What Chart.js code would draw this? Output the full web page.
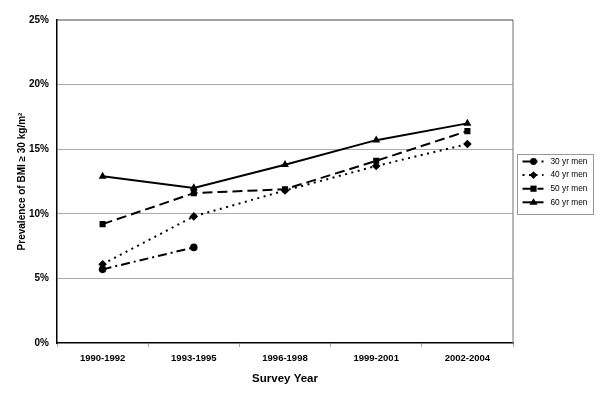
<!DOCTYPE html>
<html>
<head>
<meta charset="utf-8">
<script src="https://cdn.jsdelivr.net/npm/chart.js@4/dist/chart.umd.min.js"></script>
<style>
html,body{margin:0;padding:0;background:#fff;}
#wrap{width:600px;height:400px;}
</style>
</head>
<body>
<div id="wrap"><canvas id="c" width="600" height="400"></canvas></div>
<script>
const categories = ['1990-1992', '1993-1995', '1996-1998', '1999-2001', '2002-2004'];
const men30 = [5.7, 7.4, null, null, null];
const men40 = [6.1, 9.8, 11.8, 13.7, 15.4];
const men50 = [9.2, 11.6, 11.9, 14.1, 16.4];
const men60 = [12.9, 12.0, 13.8, 15.7, 17.0];
const seriesNames = ['30 yr men', '40 yr men', '50 yr men', '60 yr men'];
const yMin = 0, yMax = 25, yStep = 5;

const FONT = 'Arial, "Liberation Sans", sans-serif';

const styles = [
  {dash: [9, 4, 2, 4], pointStyle: 'circle', radius: 3.8},
  {dash: [2, 4.5], pointStyle: 'rectRot', radius: 4.3},
  {dash: [10, 5], pointStyle: 'rect', radius: 4.3},
  {dash: [], pointStyle: 'triangle', radius: 4.6}
];
const seriesData = [men30, men40, men50, men60];

const datasets = seriesData.map((d, i) => ({
  label: seriesNames[i],
  data: d,
  borderColor: '#000',
  backgroundColor: '#000',
  borderWidth: 2,
  borderDash: styles[i].dash,
  pointStyle: styles[i].pointStyle,
  pointRadius: styles[i].radius,
  pointBackgroundColor: '#000',
  pointBorderColor: '#000',
  pointBorderWidth: 0,
  tension: 0,
  spanGaps: false,
  fill: false
}));

function drawMarker(ctx, style, x, y, r) {
  ctx.beginPath();
  if (style === 'circle') {
    ctx.arc(x, y, r, 0, Math.PI * 2);
  } else if (style === 'rectRot') {
    ctx.moveTo(x, y - r); ctx.lineTo(x + r, y); ctx.lineTo(x, y + r); ctx.lineTo(x - r, y); ctx.closePath();
  } else if (style === 'rect') {
    ctx.rect(x - r * 0.8, y - r * 0.8, r * 1.6, r * 1.6);
  } else if (style === 'triangle') {
    ctx.moveTo(x, y - r); ctx.lineTo(x + r, y + r * 0.6); ctx.lineTo(x - r, y + r * 0.6); ctx.closePath();
  }
  ctx.fill();
}

const framePlugin = {
  id: 'frame',
  beforeDatasetsDraw(chart) {
    const {ctx, chartArea: a} = chart;
    ctx.save();
    ctx.lineWidth = 1.2;
    ctx.strokeStyle = '#888';
    ctx.beginPath();
    ctx.moveTo(a.right, a.top); ctx.lineTo(a.right, a.bottom);
    ctx.stroke();
    ctx.strokeStyle = '#444';
    ctx.beginPath();
    ctx.moveTo(a.left, a.top); ctx.lineTo(a.right, a.top);
    ctx.stroke();
    ctx.restore();
  },
  afterDraw(chart) {
    const {ctx} = chart;
    const bx = 517.5, by = 154.5, bw = 76, bh = 60;
    ctx.save();
    ctx.strokeStyle = '#999';
    ctx.lineWidth = 1;
    ctx.strokeRect(bx, by, bw, bh);
    ctx.font = '8.3px ' + FONT;
    ctx.textBaseline = 'middle';
    ctx.fillStyle = '#000';
    chart.data.datasets.forEach((ds, i) => {
      const y = by + 7 + i * 13.6;
      ctx.strokeStyle = '#000';
      ctx.lineWidth = 2;
      ctx.setLineDash(ds.borderDash);
      ctx.beginPath();
      ctx.moveTo(bx + 5, y); ctx.lineTo(bx + 26, y);
      ctx.stroke();
      ctx.setLineDash([]);
      drawMarker(ctx, ds.pointStyle, bx + 16, y, ds.pointRadius * 0.9);
      ctx.fillText(ds.label, bx + 33, y);
    });
    ctx.restore();
  }
};

new Chart(document.getElementById('c'), {
  type: 'line',
  data: {labels: categories, datasets},
  options: {
    responsive: false,
    animation: false,
    layout: {padding: {left: 0, top: 20, right: 87, bottom: 0}},
    plugins: {
      legend: {display: false},
      tooltip: {enabled: false}
    },
    scales: {
      x: {
        offset: true,
        grid: {
          offset: true,
          drawOnChartArea: false,
          drawTicks: true,
          tickLength: 4,
          color: '#aaa'
        },
        border: {color: '#000', width: 1.5},
        ticks: {
          color: '#000',
          font: {family: FONT, size: 9.5, weight: 'bold'},
          padding: 6,
          maxRotation: 0
        },
        title: {
          display: true,
          text: 'Survey Year',
          color: '#000',
          font: {family: FONT, size: 11.5, weight: 'bold'},
          padding: {top: 0, bottom: 14}
        },
        afterFit(s) { s.height = 57; }
      },
      y: {
        min: yMin,
        max: yMax,
        ticks: {
          stepSize: yStep,
          color: '#000',
          font: {family: FONT, size: 10, weight: 'bold'},
          padding: 8,
          callback: v => v + '%'
        },
        grid: {
          drawTicks: false,
          color: (c) => (c.tick && (c.tick.value === yMax || c.tick.value === yMin)) ? 'rgba(0,0,0,0)' : '#aaa',
          lineWidth: 1
        },
        border: {color: '#000', width: 1.5},
        title: {
          display: true,
          text: 'Prevalence of BMI \u2265 30 kg/m\u00B2',
          color: '#000',
          font: {family: FONT, size: 10, weight: 'bold'},
          padding: {top: 16, bottom: 0}
        },
        afterFit(s) { s.width = 57; }
      }
    }
  },
  plugins: [framePlugin]
});
</script>
</body>
</html>
